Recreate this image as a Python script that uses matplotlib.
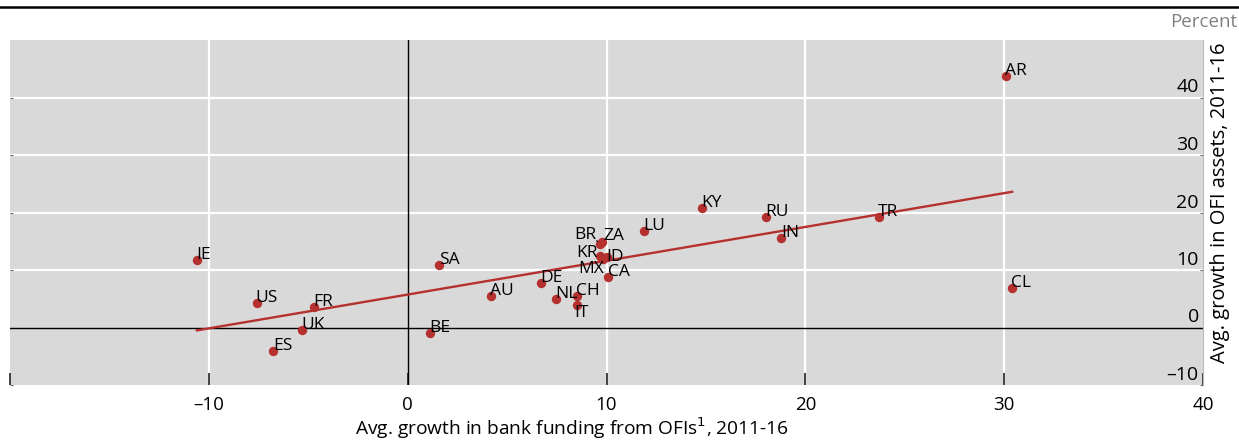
import numpy as np
import matplotlib
matplotlib.use('Agg')
import matplotlib.pyplot as plt
from matplotlib.lines import Line2D
from matplotlib.transforms import ScaledTranslation

plt.rcParams['font.family'] = ['Open Sans', 'DejaVu Sans']

# Data (percent)
countries = ['IE', 'US', 'FR', 'UK', 'ES', 'BE', 'SA', 'AU', 'DE', 'NL', 'CH', 'IT',
             'BR', 'ZA', 'KR', 'ID', 'MX', 'CA', 'LU', 'KY', 'RU', 'IN', 'TR', 'AR', 'CL']
bank_funding = [-10.6, -7.6, -4.7, -5.3, -6.75, 1.1, 1.6, 4.2, 6.7, 7.45, 8.5, 8.5,
                9.65, 9.75, 9.65, 10.0, 9.8, 10.1, 11.9, 14.8, 18.0, 18.8, 23.7, 30.1, 30.4]
ofi_assets = [11.8, 4.3, 3.5, -0.5, -4.0, -1.0, 10.9, 5.5, 7.8, 4.9, 5.5, 4.0,
              14.6, 14.9, 12.4, 12.3, 12.0, 8.8, 16.8, 20.8, 19.2, 15.6, 19.2, 43.8, 6.9]

# Linear fit shown on the chart
fit_slope = 0.588
fit_intercept = 5.73

xticks = [-20, -10, 0, 10, 20, 30, 40]
xticklabels = ['', '\u201310', '0', '10', '20', '30', '40']
yticks = [-10, 0, 10, 20, 30, 40]
yticklabels = ['\u201310', '0', '10', '20', '30', '40']

red = '#b5312f'

# label offsets in points (dx, dy, ha) for the crowded ones
label_pos = {
    'BR': (-2, 6, 'right'),
    'ZA': (1, 4.5, 'left'),
    'KR': (-1, 2.5, 'right'),
    'ID': (0, 0, 'left'),
    'MX': (1, -7.5, 'right'),
    'IT': (-2, -6, 'left'),
}

fig = plt.figure(figsize=(12.39, 4.41), dpi=100)
ax = fig.add_axes([10/1239, 56/441, 1193/1239, 345/441])
ax.set_facecolor('#d9d9d9')
ax.set_xlim(-20, 40)
ax.set_ylim(-10, 50)

for xv in [-10, 10, 20, 30]:
    ax.axvline(xv, color='white', lw=1.6, zorder=1)
for yv in [10, 20, 30, 40]:
    ax.axhline(yv, color='white', lw=1.6, zorder=1)
ax.axvline(0, color='black', lw=1.0, zorder=2)
ax.axhline(0, color='black', lw=1.0, zorder=2)

xs = np.array([min(bank_funding), max(bank_funding)])
ax.plot(xs, fit_intercept + fit_slope * xs, color=red, lw=1.7, zorder=3)
ax.scatter(bank_funding, ofi_assets, s=46, color=red, zorder=4, linewidths=0)

for name, xv, yv in zip(countries, bank_funding, ofi_assets):
    dx, dy, ha = label_pos.get(name, (-0.5, 3.6, 'left'))
    ax.annotate(name, (xv, yv), xytext=(dx, dy), textcoords='offset points',
                ha=ha, va='center', fontsize=12.5, color='black', zorder=5)
# leader line for BR
ax.annotate('', (9.65, 14.6), xytext=(-3.5, 3.5), textcoords='offset points',
            arrowprops=dict(arrowstyle='-', color='black', lw=0.8), zorder=5)

for s in ['top', 'left', 'bottom']:
    ax.spines[s].set_visible(False)
ax.spines['right'].set_color('#bbbbbb')
ax.spines['right'].set_linewidth(0.8)

ax.set_xticks(xticks)
ax.set_xticklabels(xticklabels)
ax.tick_params(axis='x', direction='in', length=9, width=1.3, color='#333333',
               labelsize=13.5, pad=8)
ax.set_yticks(yticks)
ax.set_yticklabels(yticklabels)
ax.tick_params(axis='y', left=True, right=True, labelleft=False, labelright=True,
               direction='in', length=2, width=0.8, color='#666666', labelsize=14, pad=-3)
shift = ScaledTranslation(0, 12/100, fig.dpi_scale_trans)
for lab in ax.get_yticklabels():
    lab.set_horizontalalignment('right')
    lab.set_transform(lab.get_transform() + shift)

fig.text(572/1239, 0, 'Avg. growth in bank funding from OFIs$^1$, 2011-16',
         ha='center', va='bottom', fontsize=13.8)
fig.text(1220/1239, 1 - 203/441, 'Avg. growth in OFI assets, 2011-16', rotation=90,
         ha='center', va='center', fontsize=14.5)
fig.text(1237/1239, 1 - 22/441, 'Percent', ha='right', va='center', fontsize=13.5,
         color='#808080')

fig.add_artist(Line2D([0, 1], [1 - 7/441, 1 - 7/441], color='black', lw=1.8))

fig.savefig('out.png', dpi=100)
